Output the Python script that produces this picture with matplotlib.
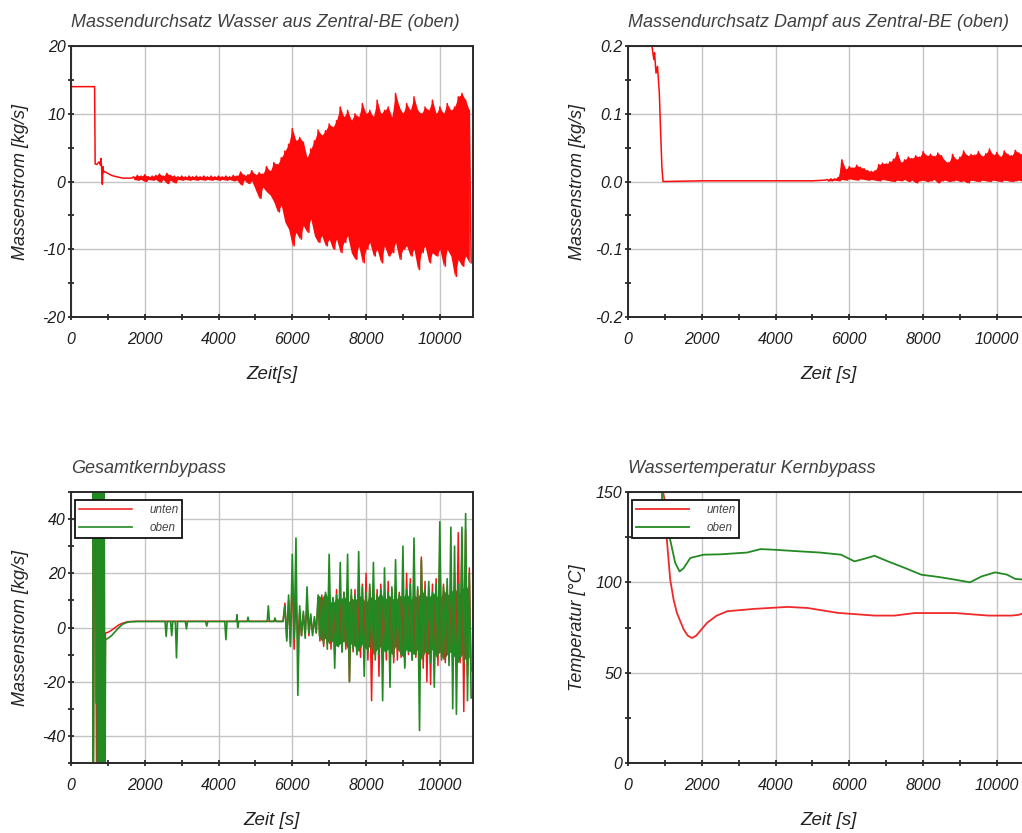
import matplotlib
matplotlib.use("Agg")
import matplotlib.pyplot as plt
from matplotlib.ticker import MultipleLocator, FormatStrFormatter

plt.rcParams['font.family'] = ['Liberation Sans', 'DejaVu Sans']
plt.rcParams['font.style'] = 'italic'
plt.rcParams['axes.unicode_minus'] = False

# --- Massendurchsatz Wasser (oben) ---
wasser_t = [0, 640, 655, 700, 760, 800, 815, 835, 850, 865, 880, 900, 1000, 1100, 1230, 1400, 1650]
wasser_v = [14.0, 14.0, 2.6, 2.5, 2.9, 2.4, 3.4, 1.5, -0.4, 2.2, 1.3, 1.5, 1.2, 0.9, 0.7, 0.5, 0.5]
wasser_osc_start = 1700
wasser_hi = [0.7, 0.9, 0.8, 1.0, 0.7, 0.8, 0.9, 1.1, 0.8, 1.2,
             0.9, 0.8, 0.7, 0.8, 0.7, 0.8, 0.7, 0.8, 0.7, 0.8,
             0.7, 0.8, 0.7, 0.8, 0.7, 0.8, 0.7, 0.9, 0.8, 1.4,
             0.9, 1.0, 1.6, 1.0, 1.3, 1.1, 2.2, 1.5, 2.8, 2.5,
             3.5, 4.5, 5.5, 7.8, 6.0, 6.5, 5.8, 3.5, 4.8, 6.0,
             7.6, 6.8, 7.5, 8.5, 8.0, 9.0, 11.0, 9.5, 10.5, 9.0,
             10.0, 9.5, 11.5, 10.0, 10.5, 9.5, 12.0, 10.0, 10.5, 11.0,
             9.5, 13.0, 11.0, 10.0, 11.5, 10.5, 12.5, 10.5, 10.0, 11.0,
             10.5, 12.0, 10.0, 11.0, 10.0, 11.5, 10.5, 11.0, 12.5, 13.0,
             12.0, 10.5]
wasser_lo = [0.3, 0.2, 0.3, 0.0, 0.3, 0.2, 0.3, -0.1, 0.3, -0.3,
             0.2, -0.2, 0.3, 0.2, 0.3, 0.2, 0.3, 0.2, 0.3, 0.2,
             0.3, 0.2, 0.3, 0.2, 0.3, 0.2, 0.3, 0.1, 0.2, -0.5,
             0.2, -0.3, 0.1, -1.2, -2.5, -0.8, -1.5, -2.0, -3.0, -4.5,
             -3.5, -6.0, -7.0, -9.5, -7.5, -8.5, -6.5, -7.5, -5.5, -8.0,
             -9.0, -8.0, -9.5, -8.5, -10.0, -8.5, -10.5, -9.0, -8.0, -10.5,
             -11.5, -9.5, -12.0, -10.0, -9.0, -11.0, -10.0, -12.0, -9.5, -11.0,
             -10.5, -9.0, -11.5, -10.0, -9.5, -11.0, -10.0, -13.0, -10.5, -9.5,
             -12.0, -10.5, -11.0, -10.0, -12.5, -10.0, -11.0, -14.0, -11.5, -12.5,
             -11.0, -12.0]

# --- Massendurchsatz Dampf (oben) ---
dampf_t = [0, 600, 650, 700, 720, 760, 800, 850, 880, 920, 950, 1000, 2000, 4000, 5000, 5350]
dampf_v = [0.35, 0.30, 0.20, 0.18, 0.19, 0.16, 0.17, 0.13, 0.08, 0.02, 0.0, 0.0, 0.001, 0.001, 0.001, 0.002]
dampf_osc_start = 5400
dampf_hi = [0.003, 0.004, 0.004, 0.006, 0.032, 0.018,
            0.022, 0.020, 0.024, 0.021, 0.019, 0.016, 0.015, 0.016, 0.025, 0.027,
            0.026, 0.029, 0.033, 0.043, 0.028, 0.032, 0.036, 0.034, 0.038, 0.036,
            0.044, 0.038, 0.040, 0.037, 0.042, 0.038, 0.030, 0.028, 0.040, 0.032,
            0.036, 0.045, 0.038, 0.040, 0.039, 0.044, 0.037, 0.041, 0.048, 0.039,
            0.043, 0.036, 0.045, 0.040, 0.038, 0.046, 0.042, 0.040, 0.044]
dampf_lo = [0.001, 0.001, 0.002, 0.001, 0.003, 0.002,
            0.004, 0.003, 0.002, 0.004, 0.003, 0.002, 0.003, 0.002, 0.001, 0.003,
            0.002, 0.001, 0.000, 0.002, 0.001, 0.003, 0.000, 0.002, -0.002, 0.001,
            0.002, 0.000, 0.001, 0.003, -0.002, 0.001, 0.002, 0.000, 0.001, 0.002,
            0.000, 0.001, -0.002, 0.002, 0.001, 0.000, 0.002, 0.001, 0.000, 0.002,
            0.001, 0.000, 0.002, 0.001, 0.000, 0.001, 0.002, 0.000, 0.001]

# --- Gesamtkernbypass ---
oben_t = [0, 590, 600, 640, 680, 690, 700, 720, 740, 760, 780, 800, 820, 840, 860, 880, 900, 920, 935,
          1000, 1100, 1200, 1300, 1400, 1500, 1600, 1800,
          2550, 2580, 2610, 2700, 2730, 2760, 2830, 2860, 2890, 3100, 3130, 3160,
          3650, 3680, 3710, 4170, 4200, 4230, 4480, 4500, 4520, 4550, 4780, 4800, 4820,
          5320, 5350, 5380, 5500, 5530, 5560, 5750]
oben_v = [80, 80, -80, 80, 80, -28, 80, -80, 80, -80, 80, -80, 80, -80, 80, -80, 60, -80, -4.5,
          -4.0, -3.0, -1.5, 0.0, 1.2, 1.8, 2.1, 2.2,
          2.2, -3.3, 2.2, 2.2, -3.0, 2.2, 2.2, -11.2, 2.2, 2.2, -0.5, 2.2,
          2.2, 0.5, 2.2, 2.2, -4.5, 2.2, 2.2, 4.7, 0.0, 2.2, 2.2, 3.8, 2.2,
          2.2, 8.0, 2.2, 2.2, 3.5, 2.2, 2.2]
unten_t = [0, 590, 600, 650, 700, 750, 800, 850, 880, 900, 935,
           1000, 1100, 1200, 1300, 1400, 1500, 1600, 1800, 5750]
unten_v = [80, 80, -80, 80, -80, 80, -80, 80, 30, -80, -2.0,
           -1.8, -1.0, 0.0, 1.0, 1.6, 2.0, 2.2, 2.3, 2.3]
bypass_osc_start = 5800
oben_hi = [8, 12,
           27, 33, 8, 6, 15, 5, 4, 12, 10, 13,
           27, 11, 12, 24, 13, 27, 14, 12, 28, 15,
           13, 16, 24, 12, 14, 22, 13, 15, 25, 12,
           30, 14, 16, 33, 15, 25, 14, 17, 13, 16,
           39, 15, 18, 37, 30, 16, 37, 42, 20]
oben_lo = [-5, -7,
           -4, -25, -3, -4, -2, -3, -2, -4, -6, -8,
           -5, -15, -7, -9, -6, -20, -8, -10, -7, -18,
           -9, -8, -12, -10, -27, -9, -22, -11, -8, -10,
           -15, -9, -12, -10, -38, -11, -9, -13, -22, -10,
           -12, -9, -14, -30, -32, -11, -13, -27, -26]
unten_hi = [9, 10,
            20, 12, 6, 5, 8, 4, 3, 11, 12, 10,
            13, 11, 14, 12, 13, 15, 12, 14, 13, 16,
            20, 15, 13, 14, 16, 13, 17, 14, 15, 13,
            16, 20, 18, 15, 14, 26, 17, 15, 16, 18,
            28, 16, 15, 17, 20, 35, 30, 36, 22]
unten_lo = [-4, -6,
            -8, -5, -3, -2, -3, -2, -2, -5, -7, -6,
            -8, -10, -7, -9, -8, -20, -9, -10, -11, -9,
            -12, -27, -10, -18, -11, -12, -10, -13, -12, -11,
            -14, -10, -12, -11, -13, -15, -20, -21, -12, -14,
            -11, -13, -12, -15, -14, -13, -31, -18, -16]
# dense green core of the bypass band, 6700 s .. 10800 s
core_start = 6700
core_hi = [12, 11, 13, 10, 9, 11, 10, 12, 9, 11,
           10, 12, 11, 9, 12, 10, 11, 13, 10, 12,
           11, 10, 12, 11, 13, 10, 12, 11, 14, 12,
           11, 13, 12, 10, 14, 12, 13, 15, 12, 14,
           16, 13]
core_lo = [-3, -5, -4, -6, -5, -7, -6, -5, -8, -6,
           -7, -9, -6, -8, -7, -10, -8, -7, -9, -8,
           -10, -7, -9, -11, -8, -9, -10, -8, -12, -9,
           -10, -8, -11, -9, -12, -10, -9, -11, -13, -10,
           -12, -11]

# --- Wassertemperatur Kernbypass ---
temp_oben_t = [850, 917, 930, 1144, 1281, 1399, 1508, 1690, 2052, 2500, 3234, 3597, 4000, 4687,
               5200, 5777, 6140, 6400, 6684, 7048, 7502, 7956, 8410, 8864, 9273, 9591, 9954,
               10272, 10500, 10736, 10900]
temp_oben = [160, 150, 144, 123.5, 110.7, 106, 107.8, 113.5, 115.3, 115.5, 116.5, 118.4, 118.0, 117.1,
             116.5, 115.3, 111.6, 113.0, 114.7, 111.6, 108, 104.2, 103, 101.5, 100, 103.3, 105.5,
             104.3, 101.9, 101.5, 101.0]
temp_unten_t = [850, 1000, 1054, 1144, 1240, 1327, 1508, 1620, 1735, 1850, 2144, 2400, 2690, 3420,
                4324, 4870, 5687, 6684, 7230, 7775, 8865, 9774, 10400, 10590, 10736, 10900]
temp_unten = [160, 145, 123.5, 101.5, 90, 83, 74, 70.5, 69.2, 70.5, 77.6, 81.5, 84, 85.3,
              86.4, 85.8, 83.1, 81.6, 81.6, 83, 83, 81.6, 81.6, 82, 83, 84]

RED = '#ff0a0a'
GREEN = '#238a23'
XMAX = 10900
W, H = 1022, 833


def zigzag(start, step, hi, lo):
    # alternate between upper and lower peak values
    t, v = [], []
    for i, (h, l) in enumerate(zip(hi, lo)):
        t += [start + i * step, start + i * step + step / 2]
        v += [h, l]
    return t, v


def band(ax, start, step, hi, lo, color):
    t = [start + i * step for i in range(len(hi))]
    ax.fill_between(t, lo, hi, color=color, linewidth=0)


def make_axes(fig, left_px, top_px, ylim, ymajor, yminor, title, ylabel, xlabel, yfmt=None):
    ax = fig.add_axes([left_px / W, 1 - (top_px + 271) / H, 402 / W, 271 / H])
    ax.set_xlim(0, XMAX)
    ax.set_ylim(*ylim)
    ax.xaxis.set_major_locator(MultipleLocator(2000))
    ax.xaxis.set_minor_locator(MultipleLocator(1000))
    ax.yaxis.set_major_locator(MultipleLocator(ymajor))
    ax.yaxis.set_minor_locator(MultipleLocator(yminor))
    if yfmt:
        ax.yaxis.set_major_formatter(FormatStrFormatter(yfmt))
    ax.grid(True, which='major', color='#c4c4c4', linewidth=1.0)
    ax.set_axisbelow(True)
    for s in ax.spines.values():
        s.set_color('#2a2a2a')
        s.set_linewidth(1.4)
    ax.tick_params(which='both', direction='inout', length=4, width=1.3, color='#2a2a2a',
                   labelsize=11.5, labelcolor='#1e1e1e')
    ax.tick_params(axis='x', which='both', pad=9)
    ax.tick_params(axis='y', which='both', pad=2)
    ax.set_title(title, loc='left', fontsize=13, color='#404040', pad=14)
    ax.set_ylabel(ylabel, fontsize=13, color='#222222')
    ax.set_xlabel(xlabel, fontsize=13.5, color='#222222')
    ax.yaxis.set_label_coords(-0.105, 0.5)
    ax.xaxis.set_label_coords(0.5, -0.18)
    return ax


def add_legend(ax):
    leg = ax.legend(loc='upper left', bbox_to_anchor=(0.01, 0.97), borderaxespad=0,
                    fontsize=8.4, handlelength=4.6, handletextpad=1.5, labelspacing=0.55,
                    borderpad=0.3, fancybox=False, framealpha=1, edgecolor='#111111')
    leg.get_frame().set_linewidth(1.3)
    for t in leg.get_texts():
        t.set_color('#444444')


fig = plt.figure(figsize=(W / 100, H / 100), dpi=100)

# top left
ax1 = make_axes(fig, 71, 46, (-20, 20), 10, 5,
                'Massendurchsatz Wasser aus Zentral-BE (oben)', 'Massenstrom [kg/s]', 'Zeit[s]')
zt, zv = zigzag(wasser_osc_start, 100, wasser_hi, wasser_lo)
band(ax1, wasser_osc_start, 100, wasser_hi, wasser_lo, RED)
ax1.plot(wasser_t + zt, wasser_v + zv, color=RED, linewidth=1.1)

# top right
ax2 = make_axes(fig, 628, 46, (-0.2, 0.2), 0.1, 0.05,
                'Massendurchsatz Dampf aus Zentral-BE (oben)', 'Massenstrom [kg/s]', 'Zeit [s]',
                yfmt='%.1f')
zt, zv = zigzag(dampf_osc_start, 100, dampf_hi, dampf_lo)
band(ax2, dampf_osc_start, 100, dampf_hi, dampf_lo, RED)
ax2.plot(dampf_t + zt, dampf_v + zv, color=RED, linewidth=1.1)

# bottom left
ax3 = make_axes(fig, 71, 492, (-50, 50), 20, 10,
                'Gesamtkernbypass', 'Massenstrom [kg/s]', 'Zeit [s]')
ut, uv = zigzag(bypass_osc_start, 100, unten_hi, unten_lo)
ot, ov = zigzag(bypass_osc_start, 100, oben_hi, oben_lo)
ax3.plot(unten_t + ut, unten_v + uv, color='#f01818', linewidth=1.1, label='unten')
ax3.plot(oben_t + ot, oben_v + ov, color=GREEN, linewidth=1.2, label='oben')
band(ax3, core_start, 100, core_hi, core_lo, GREEN)
add_legend(ax3)

# bottom right
ax4 = make_axes(fig, 628, 492, (0, 150), 50, 25,
                'Wassertemperatur Kernbypass', 'Temperatur [°C]', 'Zeit [s]')
ax4.plot(temp_unten_t, temp_unten, color='#f02a2a', linewidth=1.3, label='unten')
ax4.plot(temp_oben_t, temp_oben, color=GREEN, linewidth=1.3, label='oben')
add_legend(ax4)

fig.savefig('out.png', dpi=100)
